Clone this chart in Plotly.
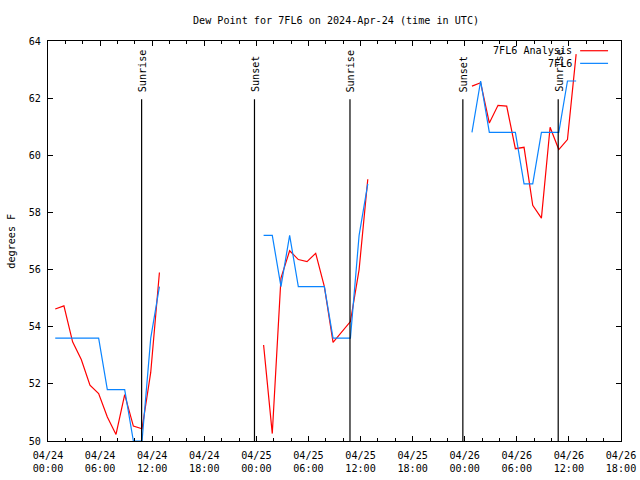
import plotly.graph_objects as go

# ---- data ----
day1 = "2024-04-24"
day2 = "2024-04-25"
day3 = "2024-04-26"
hours = ["00:50", "01:50", "02:50", "03:50", "04:50", "05:50", "06:50",
         "07:50", "08:50", "09:50", "10:50", "11:50", "12:50"]

analysis_d1 = [54.62, 54.73, 53.47, 52.85, 51.95, 51.66, 50.84, 50.23, 51.62, 50.52, 50.43, 52.4, 55.9]
analysis_d2 = [53.36, 50.26, 55.7, 56.66, 56.35, 56.28, 56.57, 55.4, 53.45, 53.82, 54.18, 56.0, 59.16]
analysis_d3 = [62.42, 62.54, 61.13, 61.75, 61.72, 60.23, 60.28, 58.25, 57.8, 60.98, 60.2, 60.55, 63.54]

obs_d1 = [53.6, 53.6, 53.6, 53.6, 53.6, 53.6, 51.8, 51.8, 51.8, 50.0, 50.0, 53.6, 55.4]
obs_d2 = [57.2, 57.2, 55.4, 57.2, 55.4, 55.4, 55.4, 55.4, 53.6, 53.6, 53.6, 57.2, 59.0]
obs_d3 = [60.8, 62.6, 60.8, 60.8, 60.8, 60.8, 59.0, 59.0, 60.8, 60.8, 60.8, 62.6, 62.6]

sun_labels = ["Sunrise", "Sunset", "Sunrise", "Sunset", "Sunrise"]
sun_times = ["2024-04-24 10:47", "2024-04-24 23:47", "2024-04-25 10:47",
             "2024-04-25 23:47", "2024-04-26 10:46"]

tick_times = ["2024-04-24 00:00", "2024-04-24 06:00", "2024-04-24 12:00", "2024-04-24 18:00",
              "2024-04-25 00:00", "2024-04-25 06:00", "2024-04-25 12:00", "2024-04-25 18:00",
              "2024-04-26 00:00", "2024-04-26 06:00", "2024-04-26 12:00", "2024-04-26 18:00"]
tick_text = ["04/24<br>00:00", "04/24<br>06:00", "04/24<br>12:00", "04/24<br>18:00",
             "04/25<br>00:00", "04/25<br>06:00", "04/25<br>12:00", "04/25<br>18:00",
             "04/26<br>00:00", "04/26<br>06:00", "04/26<br>12:00", "04/26<br>18:00"]

title = "Dew Point for 7FL6 on 2024-Apr-24 (time in UTC)"
ylabel = "degrees F"
name_analysis = "7FL6 Analysis"
name_obs = "7FL6"

# ---- build series with gaps ----
def join(days, vals):
    xs, ys = [], []
    for d, v in zip(days, vals):
        xs += [f"{d} {h}" for h in hours] + [None]
        ys += list(v) + [None]
    return xs, ys

xa, ya = join([day1, day2, day3], [analysis_d1, analysis_d2, analysis_d3])
xo, yo = join([day1, day2, day3], [obs_d1, obs_d2, obs_d3])

RED = "#ff0000"
BLUE = "#0a84ff"
FONT = "DejaVu Sans Mono"
S = 648 / 640          # page-to-picture scale observed in the capture
FS = 10 * S

fig = go.Figure()
fig.add_trace(go.Scatter(x=xa, y=ya, mode="lines", line=dict(color=RED, width=1.2),
                         name=name_analysis, showlegend=False, connectgaps=False))
fig.add_trace(go.Scatter(x=xo, y=yo, mode="lines", line=dict(color=BLUE, width=1.2),
                         name=name_obs, showlegend=False, connectgaps=False))

# target plot area in picture pixels
PL, PT, PR, PB = 47, 40, 622, 439
W0, H0 = 640, 480
pw, ph = PR - PL, PB - PT

def px_x(p):
    return (p - PL) / pw

def px_y(p):
    return (PB - p) / ph

shapes = []
annotations = []
for lab, t in zip(sun_labels, sun_times):
    shapes.append(dict(type="line", xref="x", yref="paper", x0=t, x1=t, y0=0, y1=px_y(98),
                       line=dict(color="black", width=1.2)))
    annotations.append(dict(x=t, y=px_y(93), xref="x", yref="paper", text=lab, textangle=-90,
                            showarrow=False, xanchor="center", yanchor="bottom", xshift=1,
                            font=dict(family=FONT, size=FS, color="black")))

# key (gnuplot style: text then line sample)
for name, col, py in [(name_analysis, RED, 49.7), (name_obs, BLUE, 62.3)]:
    annotations.append(dict(x=px_x(575), y=px_y(py), xref="paper", yref="paper", text=name,
                            showarrow=False, xanchor="right", yanchor="middle",
                            font=dict(family=FONT, size=FS, color="black")))
    shapes.append(dict(type="line", xref="paper", yref="paper", x0=px_x(581), x1=px_x(609),
                       y0=px_y(py), y1=px_y(py), line=dict(color=col, width=1.2)))

annotations.append(dict(x=px_x(10), y=px_y(240), xref="paper", yref="paper", text=ylabel,
                        textangle=-90, showarrow=False, xanchor="center", yanchor="middle",
                        font=dict(family=FONT, size=FS, color="black")))
annotations.append(dict(x=px_x(336), y=px_y(20), xref="paper", yref="paper", text=title,
                        showarrow=False, xanchor="center", yanchor="middle",
                        font=dict(family=FONT, size=FS, color="black")))

fig.update_layout(
    width=round(W0 * S), height=round(H0 * S),
    margin=dict(l=PL * S, r=(W0 - PR) * S, t=PT * S, b=(H0 - PB) * S, pad=0),
    paper_bgcolor="white", plot_bgcolor="white",
    font=dict(family=FONT, size=FS, color="black"),
    shapes=shapes, annotations=annotations,
    showlegend=False,
)
fig.update_xaxes(
    type="date", range=["2024-04-24 00:00", "2024-04-26 18:00"],
    tickmode="array", tickvals=tick_times, ticktext=tick_text,
    ticks="inside", ticklen=5, tickcolor="black", tickwidth=1,
    minor=dict(ticks="inside", ticklen=3, dtick=7200000, tick0="2024-04-24", tickcolor="black"),
    showline=True, linecolor="black", linewidth=1, mirror="ticks",
    showgrid=False, zeroline=False, ticklabelstandoff=5,
    tickfont=dict(family=FONT, size=FS, color="black"),
)
fig.update_yaxes(
    range=[50, 64], dtick=2, tick0=50,
    ticks="inside", ticklen=5, tickcolor="black", tickwidth=1,
    showline=True, linecolor="black", linewidth=1, mirror="ticks",
    showgrid=False, zeroline=False, ticklabelstandoff=4,
    tickfont=dict(family=FONT, size=FS, color="black"),
)

fig.write_html("out.html", config={"displayModeBar": False},
               post_script="document.body.style.margin='0';document.body.style.overflow='hidden';")
